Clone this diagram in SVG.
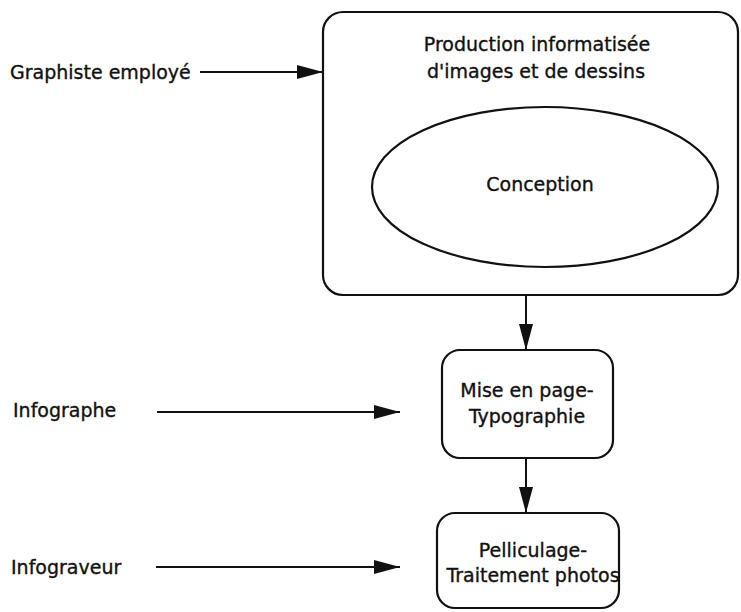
<svg xmlns="http://www.w3.org/2000/svg" width="741" height="612" viewBox="0 0 741 612">
  <style>
    text { font-family: "DejaVu Sans", Verdana, sans-serif; font-size: 19px; fill: #111; stroke: #111; stroke-width: 0.35; }
    .mid { text-anchor: middle; }
    .box { fill: #fff; stroke: #111; stroke-width: 2.2; }
    .link { stroke: #111; stroke-width: 2; fill: none; marker-end: url(#head); }
  </style>
  <defs>
    <marker id="head" viewBox="0 0 26 14" refX="26" refY="7" markerWidth="26" markerHeight="14" markerUnits="userSpaceOnUse" orient="auto">
      <path d="M0,0 L26,7 L0,14 Z" fill="#111"/>
    </marker>
  </defs>
  <rect width="741" height="612" fill="#fff"/>

  <g id="production">
    <rect class="box" x="323" y="12" width="415" height="283" rx="20"/>
    <text class="mid" x="537" y="51">Production informatisée</text>
    <text class="mid" x="536" y="78">d'images et de dessins</text>
  </g>
  <g id="conception">
    <ellipse class="box" cx="545" cy="187" rx="173" ry="80"/>
    <text class="mid" x="540" y="191">Conception</text>
  </g>
  <g id="mise-en-page">
    <rect class="box" x="442" y="350" width="171" height="108" rx="18"/>
    <text class="mid" x="527" y="397">Mise en page-</text>
    <text class="mid" x="527" y="423">Typographie</text>
  </g>
  <g id="pelliculage">
    <rect class="box" x="437" y="513" width="182" height="95" rx="18"/>
    <text class="mid" x="533" y="557">Pelliculage-</text>
    <text class="mid" x="533" y="582">Traitement photos</text>
  </g>
  <g id="graphiste">
    <text x="10" y="79">Graphiste employé</text>
  </g>
  <g id="infographe">
    <text x="13" y="417">Infographe</text>
  </g>
  <g id="infograveur">
    <text x="11" y="574">Infograveur</text>
  </g>

  <g id="connectors">
    <line class="link" x1="200" y1="72" x2="323" y2="72"/>
    <line class="link" x1="526" y1="295" x2="526" y2="350"/>
    <line class="link" x1="526" y1="458" x2="526" y2="513"/>
    <line class="link" x1="157" y1="412" x2="400" y2="412"/>
    <line class="link" x1="156" y1="567" x2="400" y2="567"/>
  </g>
</svg>
